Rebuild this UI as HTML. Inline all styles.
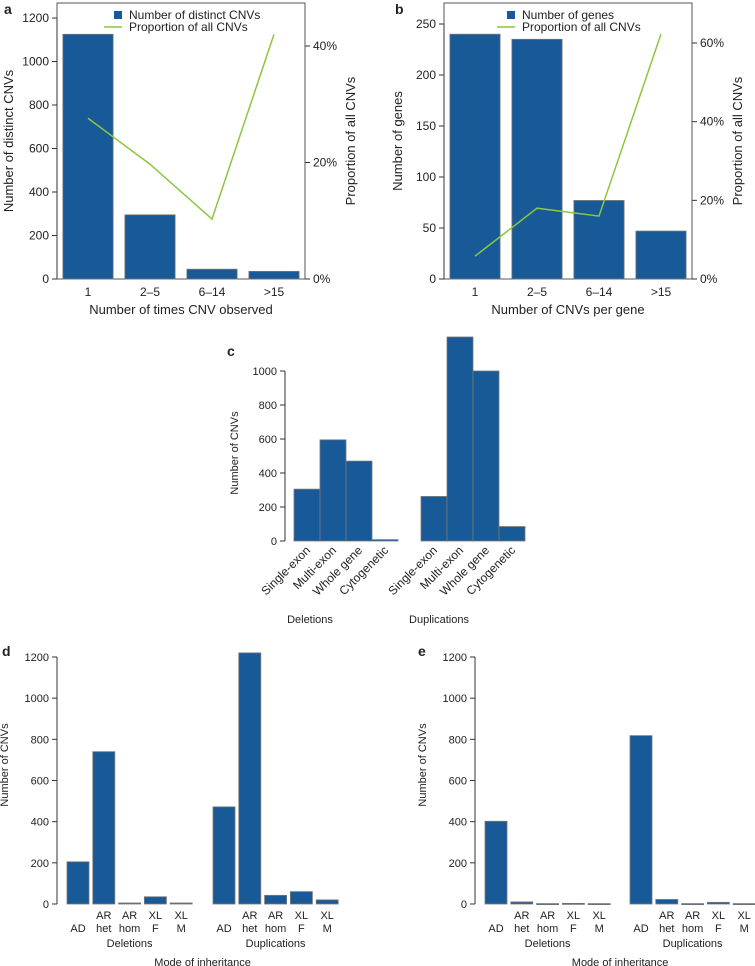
<!DOCTYPE html>
<html><head><meta charset="utf-8">
<style>
html,body{margin:0;padding:0;background:#fff;}
svg{display:block;font-family:"Liberation Sans",Arial,sans-serif;}
text{fill:#222;}
</style></head>
<body>
<svg id="fig" width="755" height="966" viewBox="0 0 755 966" xmlns="http://www.w3.org/2000/svg"></svg>
<script>
// ---- data ----
const aCategories = ["1","2\u20135","6\u201314",">15"];
const aCounts = [1125, 295, 45, 35];
const aProportion = [27.6, 19.7, 10.3, 42.0];
const aLeftTicks = [0,200,400,600,800,1000,1200];
const aRightTicks = [0,20,40];

const bCategories = ["1","2\u20135","6\u201314",">15"];
const bCounts = [240, 235, 77, 47];
const bProportion = [5.8, 18.0, 16.0, 62.3];
const bLeftTicks = [0,50,100,150,200,250];
const bRightTicks = [0,20,40,60];

const cCategories = ["Single-exon","Multi-exon","Whole gene","Cytogenetic"];
const cDeletions = [305, 595, 470, 8];
const cDuplications = [262, 1200, 1000, 85];
const cTicks = [0,200,400,600,800,1000];

const modeRow1 = ["","AR","AR","XL","XL"];
const modeRow2 = ["AD","het","hom","F","M"];
const dDeletions = [205, 740, 5, 35, 5];
const dDuplications = [472, 1220, 42, 60, 20];
const eDeletions = [402, 10, 2, 3, 2];
const eDuplications = [818, 22, 2, 8, 2];
const deTicks = [0,200,400,600,800,1000,1200];

const NS = "http://www.w3.org/2000/svg";
const svg = document.getElementById("fig");
const BLUE = "#185a97", GREEN = "#8cc63f";
function el(tag, attrs, parent, txt){
  const e = document.createElementNS(NS, tag);
  for (const k in attrs) e.setAttribute(k, attrs[k]);
  if (txt !== undefined) e.textContent = txt;
  (parent || svg).appendChild(e);
  return e;
}
function group(name){
  const g = el("g", {});
  
  
  return g;
}
function label(g, x, y, s, size, anchor, name, extra){
  const t = el("text", Object.assign({x:x, y:y, "font-size":size, "text-anchor":anchor||"middle"}, extra||{}), g, s);
  
  
  return t;
}
function scale(d0,d1,r0,r1){ return v => r0 + (v-d0)/(d1-d0)*(r1-r0); }
function yAxis(g, x, ticks, y, name, fs){
  const ax = el("line", {x1:x, x2:x, y1:y(ticks[ticks.length-1]), y2:y(ticks[0]), stroke:"#333", "stroke-width":1}, g);
  
  
  ticks.forEach(t => {
    el("line", {x1:x-5, x2:x, y1:y(t), y2:y(t), stroke:"#333"}, g);
    label(g, x-8, y(t)+4, String(t), fs||11, "end", name + "-tick");
  });
}
function bar(g, x, w, v, y, name){
  const r = el("rect", {x:x, y:y(v), width:w, height:Math.max(y(0)-y(v),1), fill:BLUE, stroke:"#777", "stroke-width":0.8}, g);
  
  
}

// ---- panel a / b (combo) ----
function combo(o){
  const g = group(o.name);
  label(g, o.letterX, 14, o.letter, 14, "start", "panel-label-" + o.letter, {"font-weight":"bold"});
  el("rect", {x:o.x0, y:3, width:o.x1-o.x0, height:276, fill:"none", stroke:"#555"}, g);
  const y = scale(0, o.lmax, 279, o.ltop);
  const yr = scale(0, o.rmax, 279, o.rtop);
  yAxis(g, o.x0, o.lticks, y, "left-y-axis", 12);
  o.rticks.forEach(t => {
    el("line", {x1:o.x1, x2:o.x1+5, y1:yr(t), y2:yr(t), stroke:"#333"}, g);
    label(g, o.x1+8, yr(t)+4, t + "%", 12, "start", "right-y-tick");
  });
  const n = o.cats.length, step = (o.x1-o.x0)/n, bw = step*0.81;
  const pts = [];
  o.cats.forEach((c,i) => {
    const cx = o.x0 + step*(i+0.5);
    bar(g, cx-bw/2, bw, o.counts[i], y, "bar-" + i);
    label(g, cx, 296, c, 12, "middle", "x-tick-label");
    pts.push(cx + "," + yr(o.prop[i]));
  });
  const pl = el("polyline", {points:pts.join(" "), fill:"none", stroke:GREEN, "stroke-width":1.5}, g);
  
  
  label(g, (o.x0+o.x1)/2, 314, o.xtitle, 13, "middle", "x-axis-title");
  label(g, 0, 0, o.ytitle, 13, "middle", "y-axis-title", {transform:`translate(${o.ytx},141) rotate(-90)`});
  label(g, 0, 0, "Proportion of all CNVs", 13, "middle", "right-axis-title", {transform:`translate(${o.x1+50},141) rotate(-90)`});
  el("rect", {x:o.legX, y:11, width:8, height:8, fill:BLUE}, g);
  label(g, o.legX+15, 19, o.legText, 12, "start", "legend-entry-bars");
  el("line", {x1:o.legX-10, x2:o.legX+8, y1:27, y2:27, stroke:GREEN, "stroke-width":1.5}, g);
  label(g, o.legX+15, 31, "Proportion of all CNVs", 12, "start", "legend-entry-line");
}
combo({name:"panel-a", letter:"a", letterX:4, x0:57, x1:305, lmax:1200, ltop:18, rmax:40, rtop:46,
  lticks:aLeftTicks, rticks:aRightTicks, cats:aCategories, counts:aCounts, prop:aProportion,
  xtitle:"Number of times CNV observed", ytitle:"Number of distinct CNVs", ytx:13, legX:114, legText:"Number of distinct CNVs"});
combo({name:"panel-b", letter:"b", letterX:395, x0:444, x1:692, lmax:250, ltop:24, rmax:60, rtop:43,
  lticks:bLeftTicks, rticks:bRightTicks, cats:bCategories, counts:bCounts, prop:bProportion,
  xtitle:"Number of CNVs per gene", ytitle:"Number of genes", ytx:402, legX:507, legText:"Number of genes"});

// ---- panel c ----
(function(){
  const g = group("panel-c");
  label(g, 227, 356, "c", 14, "start", "panel-label-c", {"font-weight":"bold"});
  const y = scale(0, 1000, 541, 371);
  yAxis(g, 285, cTicks, y, "y-axis", 11);
  const bw = 26;
  [[cDeletions, 294, "deletions"], [cDuplications, 421, "duplications"]].forEach(([vals, x0, nm]) => {
    vals.forEach((v,i) => {
      const x = x0 + i*bw;
      bar(g, x, bw, v, y, "bar-" + nm + "-" + i);
      label(g, 0, 0, cCategories[i], 12, "end", "x-tick-label", {transform:`translate(${x+bw/2+4},551) rotate(-45)`});
    });
  });
  label(g, 310, 623, "Deletions", 11, "middle", "group-label-deletions");
  label(g, 439, 623, "Duplications", 11, "middle", "group-label-duplications");
  label(g, 0, 0, "Number of CNVs", 11, "middle", "y-axis-title", {transform:"translate(238,453) rotate(-90)"});
})();

// ---- panels d / e ----
function modePanel(o){
  const g = group(o.name);
  label(g, o.letterX, 656, o.letter, 14, "start", "panel-label-" + o.letter, {"font-weight":"bold"});
  const y = scale(0, 1200, 904, 657);
  yAxis(g, o.ax, deTicks, y, "y-axis", 11);
  const bw = 22, step = 25.8;
  [[o.del, o.delX, "deletions"], [o.dup, o.dupX, "duplications"]].forEach(([vals, x0, nm]) => {
    vals.forEach((v,i) => {
      const x = x0 + i*step;
      bar(g, x, bw, v, y, "bar-" + nm + "-" + i);
      if (modeRow1[i]) label(g, x+bw/2, 919, modeRow1[i], 11, "middle", "x-tick-label");
      label(g, x+bw/2, 932, modeRow2[i], 11, "middle", "x-tick-label");
    });
  });
  label(g, o.delX + 2*step + bw/2, 947, "Deletions", 11, "middle", "group-label-deletions");
  label(g, o.dupX + 2*step + bw/2, 947, "Duplications", 11, "middle", "group-label-duplications");
  label(g, (o.delX + o.dupX + 4*step + bw)/2, 966, "Mode of inheritance", 11, "middle", "x-axis-title");
  label(g, 0, 0, "Number of CNVs", 11, "middle", "y-axis-title", {transform:`translate(${o.ytx},765) rotate(-90)`});
}
modePanel({name:"panel-d", letter:"d", letterX:2, ax:57, delX:67, dupX:213, del:dDeletions, dup:dDuplications, ytx:8});
modePanel({name:"panel-e", letter:"e", letterX:418, ax:475, delX:485, dupX:630, del:eDeletions, dup:eDuplications, ytx:426});
</script>
</body></html>
